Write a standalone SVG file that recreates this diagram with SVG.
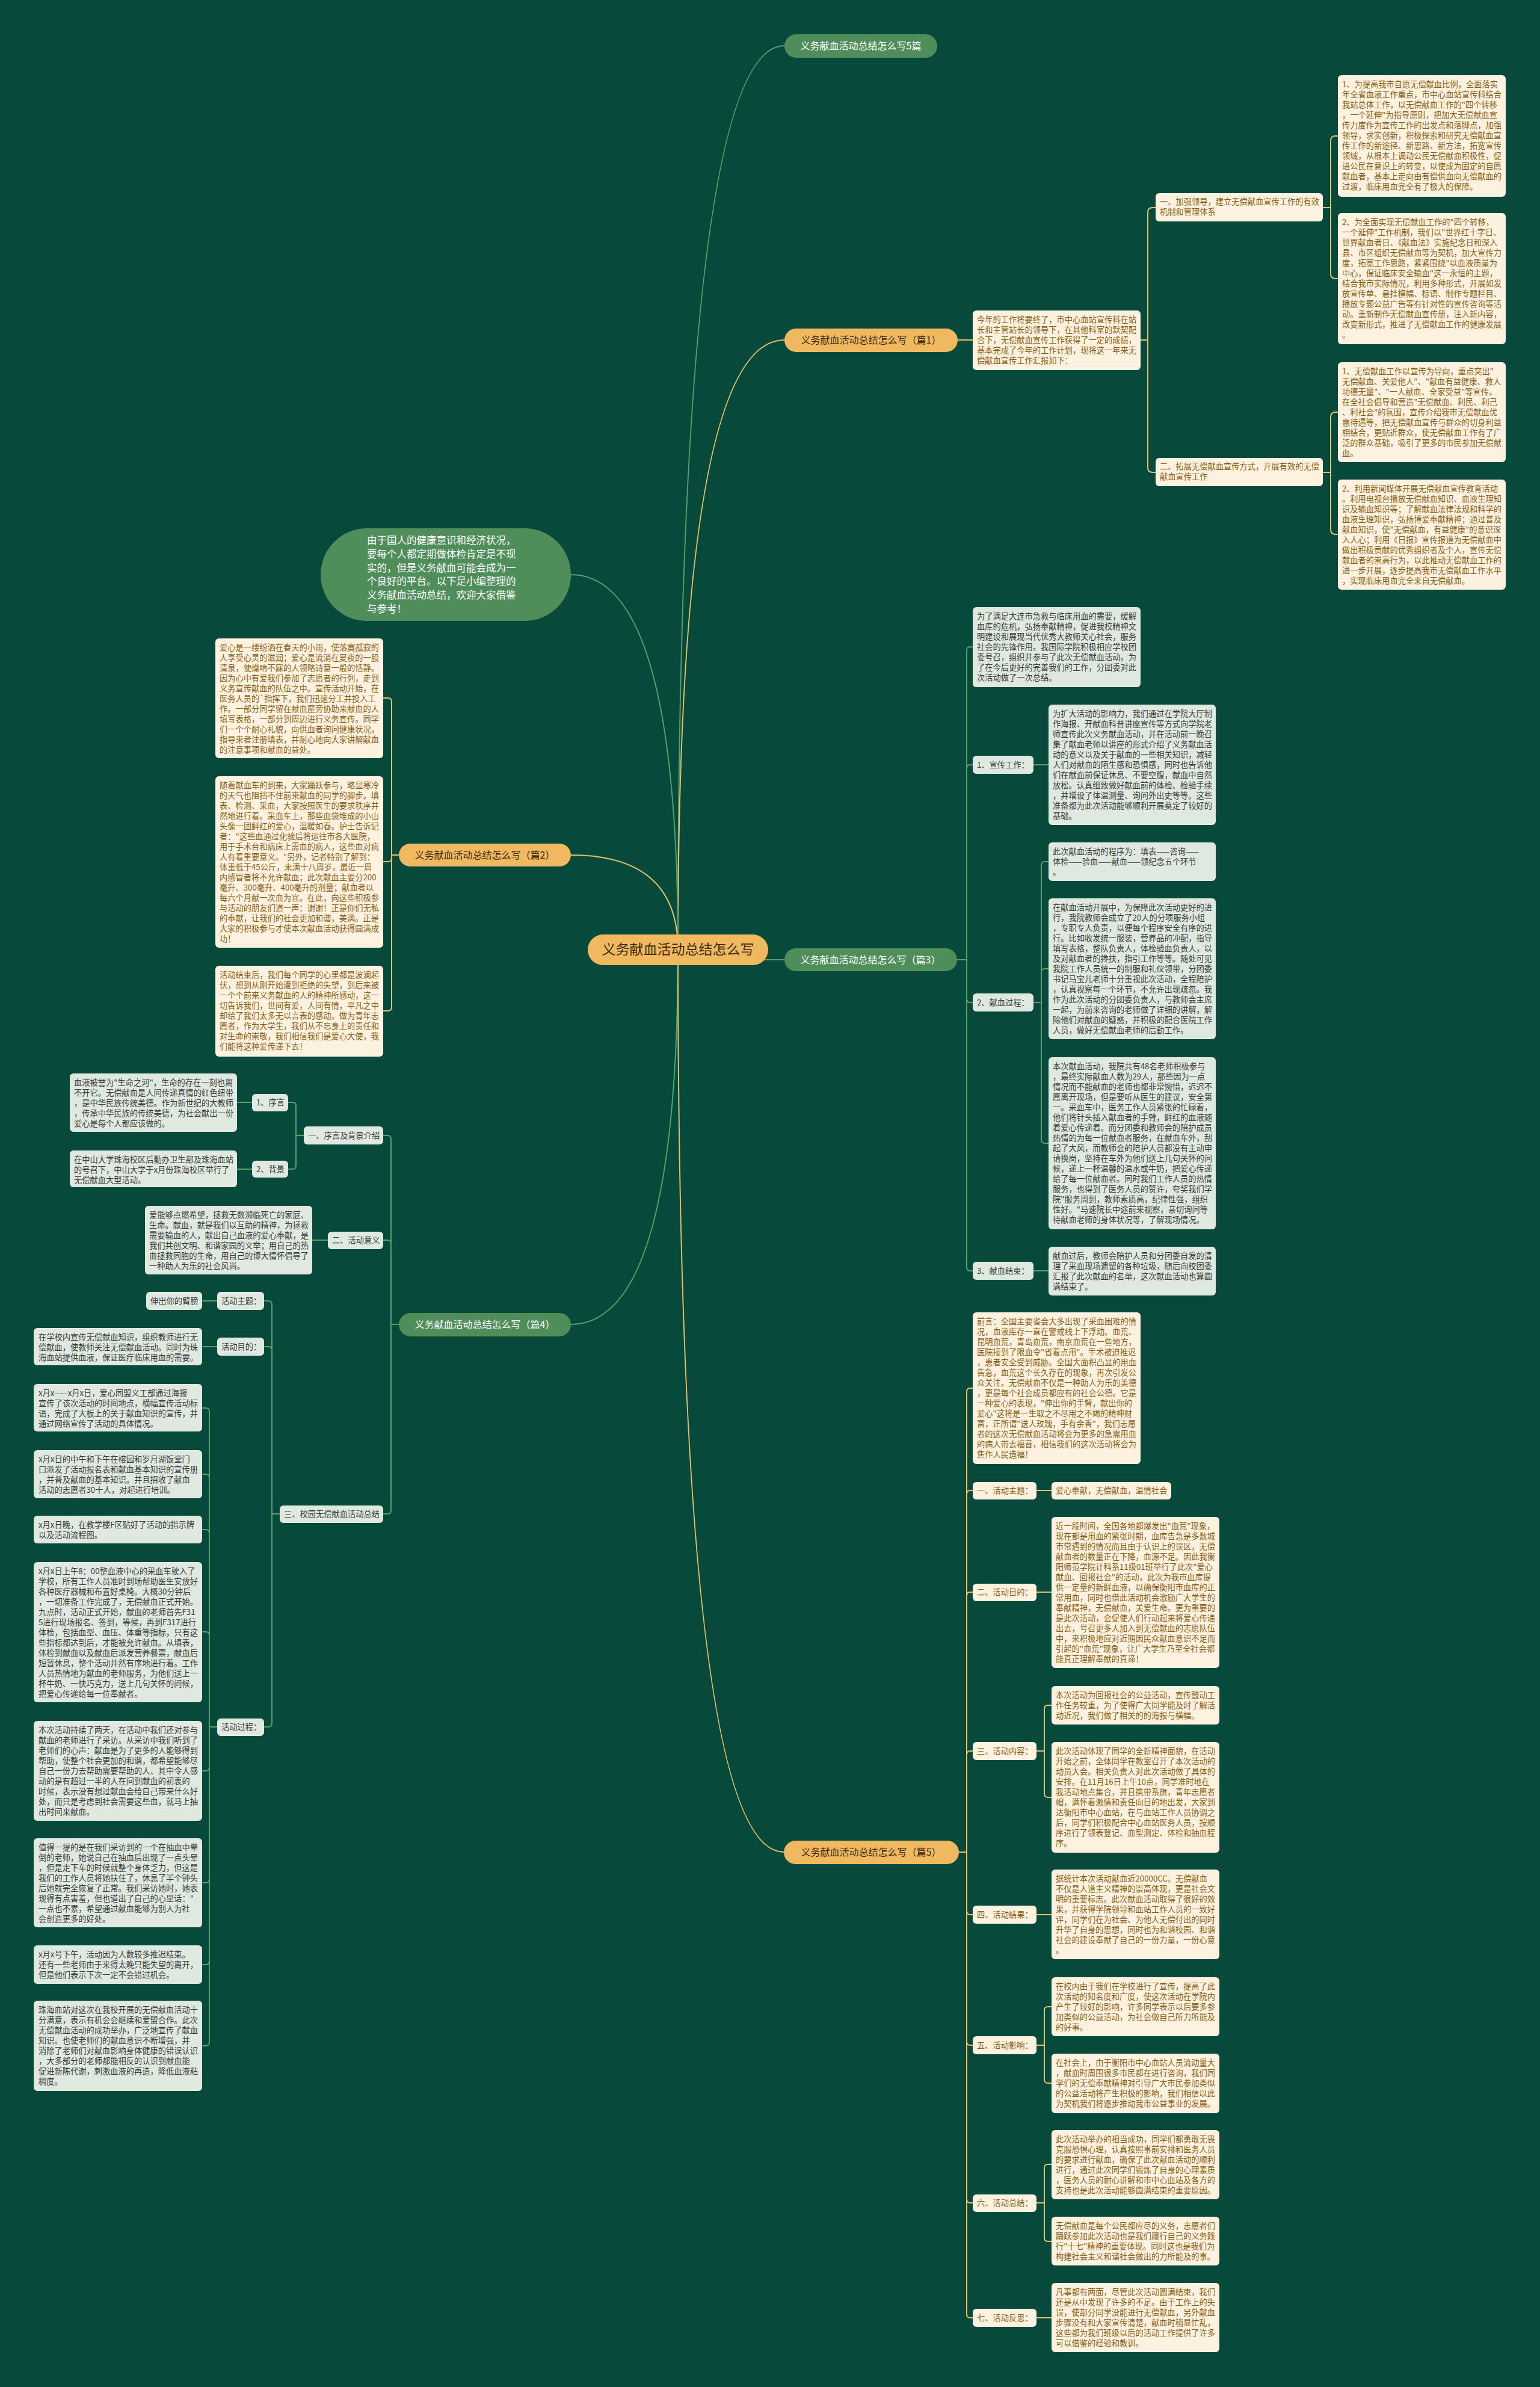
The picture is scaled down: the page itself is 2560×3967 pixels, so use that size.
<svg xmlns="http://www.w3.org/2000/svg" width="2560" height="3967" viewBox="0 0 2560 3967">
<style>
text{font-family:"Noto Sans CJK SC","Noto Sans",sans-serif;}
.cb{fill:#fcf2df;}
.gb{fill:#dfe9df;}
.ct{font-size:13.25px;fill:#8c5e14;}
.gt{font-size:13.25px;fill:#3b3b3b;}
.ly{fill:none;stroke:#e4c06a;stroke-width:2;}
.lg{fill:none;stroke:#5c9f69;stroke-width:2;}
.yn{fill:#f0b960;}
.gn{fill:#4f8e5a;}
.ynt{font-size:16px;fill:#3d2b10;text-anchor:middle;}
.gnt{font-size:16px;fill:#ffffff;text-anchor:middle;}
</style>
<rect width="2560" height="3967" fill="#07493a"/>

<g id="connectors">
<path class="lg" d="M1127 1578 Q1127 76 1304 76"/>
<path class="ly" d="M1127 1578 Q1127 565 1304 565"/>
<path class="lg" d="M1127 1578 Q1127 955 949 955"/>
<path class="ly" d="M1127 1578 Q1127 1421 949 1421"/>
<path class="lg" d="M1127 1595 H1304"/>
<path class="lg" d="M1127 1578 Q1127 2201 949 2201"/>
<path class="ly" d="M1127 1578 Q1127 3078 1303 3078"/>
<path class="ly" d="M1592 565 H1617"/>
<path class="ly" d="M1896 565 H1908 V353 Q1908 345 1916 345 H1921"/>
<path class="ly" d="M1896 565 H1908 V777 Q1908 785 1916 785 H1921"/>
<path class="ly" d="M2199 345 H2212 V234 Q2212 226 2220 226 H2224"/>
<path class="ly" d="M2199 345 H2212 V455 Q2212 463 2220 463 H2224"/>
<path class="ly" d="M2199 785 H2212 V693 Q2212 685 2220 685 H2224"/>
<path class="ly" d="M2199 785 H2212 V880 Q2212 888 2220 888 H2224"/>
<path class="lg" d="M1591 1595 H1607 V1081 Q1607 1075 1613 1075 H1617"/>
<path class="lg" d="M1591 1595 H1607 V1277 Q1607 1271 1613 1271 H1617"/>
<path class="lg" d="M1591 1595 H1607 V1660 Q1607 1666 1613 1666 H1617"/>
<path class="lg" d="M1591 1595 H1607 V2106 Q1607 2112 1613 2112 H1617"/>
<path class="lg" d="M1718 1271 H1743"/>
<path class="lg" d="M1718 1666 H1731 V1438 Q1731 1432 1737 1432 H1743"/>
<path class="lg" d="M1718 1666 H1731 V1616 Q1731 1610 1737 1610 H1743"/>
<path class="lg" d="M1718 1666 H1731 V1894 Q1731 1900 1737 1900 H1743"/>
<path class="lg" d="M1718 2112 H1743"/>
<path class="ly" d="M1594 3078 H1607 V2313 Q1607 2307 1613 2307 H1617"/>
<path class="ly" d="M1594 3078 H1607 V2483 Q1607 2477 1613 2477 H1617"/>
<path class="ly" d="M1594 3078 H1607 V2652 Q1607 2646 1613 2646 H1617"/>
<path class="ly" d="M1594 3078 H1607 V2916 Q1607 2910 1613 2910 H1617"/>
<path class="ly" d="M1594 3078 H1607 V3176 Q1607 3182 1613 3182 H1617"/>
<path class="ly" d="M1594 3078 H1607 V3393 Q1607 3399 1613 3399 H1617"/>
<path class="ly" d="M1594 3078 H1607 V3655 Q1607 3661 1613 3661 H1617"/>
<path class="ly" d="M1594 3078 H1607 V3846 Q1607 3852 1613 3852 H1617"/>
<path class="ly" d="M1723 2477 H1748"/>
<path class="ly" d="M1723 2646 H1748"/>
<path class="ly" d="M1723 2910 H1736 V2840 Q1736 2834 1742 2834 H1748"/>
<path class="ly" d="M1723 2910 H1736 V2981 Q1736 2987 1742 2987 H1748"/>
<path class="ly" d="M1723 3182 H1748"/>
<path class="ly" d="M1723 3399 H1736 V3341 Q1736 3335 1742 3335 H1748"/>
<path class="ly" d="M1723 3399 H1736 V3456 Q1736 3462 1742 3462 H1748"/>
<path class="ly" d="M1723 3661 H1736 V3603 Q1736 3597 1742 3597 H1748"/>
<path class="ly" d="M1723 3661 H1736 V3719 Q1736 3725 1742 3725 H1748"/>
<path class="ly" d="M1723 3852 H1748"/>
<path class="ly" d="M663 1421 H651 V1166 Q651 1160 645 1160 H637"/>
<path class="ly" d="M663 1421 H651 V1426 Q651 1432 645 1432 H637"/>
<path class="ly" d="M663 1421 H651 V1674 Q651 1680 645 1680 H637"/>
<path class="lg" d="M663 2201 H650 V1893 Q650 1887 644 1887 H637"/>
<path class="lg" d="M663 2201 H650 V2067 Q650 2061 644 2061 H637"/>
<path class="lg" d="M663 2201 H650 V2510 Q650 2516 644 2516 H637"/>
<path class="lg" d="M505 1887 H492 V1838 Q492 1832 486 1832 H479"/>
<path class="lg" d="M505 1887 H492 V1937 Q492 1943 486 1943 H479"/>
<path class="lg" d="M419 1832 H394"/>
<path class="lg" d="M419 1943 H394"/>
<path class="lg" d="M545 2061 H519"/>
<path class="lg" d="M465 2516 H452 V2168 Q452 2162 446 2162 H439"/>
<path class="lg" d="M465 2516 H452 V2244 Q452 2238 446 2238 H439"/>
<path class="lg" d="M465 2516 H452 V2864 Q452 2870 446 2870 H439"/>
<path class="lg" d="M361 2162 H336"/>
<path class="lg" d="M361 2238 H336"/>
<path class="lg" d="M361 2870 H348 V2346 Q348 2340 342 2340 H336"/>
<path class="lg" d="M361 2870 H348 V2456 Q348 2450 342 2450 H336"/>
<path class="lg" d="M361 2870 H348 V2548 Q348 2542 342 2542 H336"/>
<path class="lg" d="M361 2870 H348 V2718 Q348 2712 342 2712 H336"/>
<path class="lg" d="M361 2870 H348 V2937 Q348 2943 342 2943 H336"/>
<path class="lg" d="M361 2870 H348 V3123 Q348 3129 342 3129 H336"/>
<path class="lg" d="M361 2870 H348 V3259 Q348 3265 342 3265 H336"/>
<path class="lg" d="M361 2870 H348 V3394 Q348 3400 342 3400 H336"/>
</g>

<g id="root"><rect x="977" y="1553" width="300" height="51" rx="25.5" class="yn"/><text x="1127" y="1586" style="font-size:23px;fill:#3d2b10;text-anchor:middle">义务献血活动总结怎么写</text></g>
<g id="intro"><rect x="533" y="878" width="416" height="154" rx="77" class="gn"/>
<text style="font-size:16.5px;fill:#fff"><tspan x="610" y="904">由于国人的健康意识和经济状况，</tspan><tspan x="610" dy="22.8">要每个人都定期做体检肯定是不现</tspan><tspan x="610" dy="22.8">实的，但是义务献血可能会成为一</tspan><tspan x="610" dy="22.8">个良好的平台。以下是小编整理的</tspan><tspan x="610" dy="22.8">义务献血活动总结，欢迎大家借鉴</tspan><tspan x="610" dy="22.8">与参考！</tspan></text></g>
<g id="n5pian"><rect x="1304" y="57" width="254" height="39" rx="19.5" class="gn"/><text x="1431" y="82" class="gnt">义务献血活动总结怎么写5篇</text></g>
<g id="p1"><rect x="1304" y="546" width="288" height="39" rx="19.5" class="yn"/><text x="1448" y="571" class="ynt">义务献血活动总结怎么写（篇1）</text></g>
<g id="p2"><rect x="663" y="1402" width="286" height="38" rx="19" class="yn"/><text x="806" y="1427" class="ynt">义务献血活动总结怎么写（篇2）</text></g>
<g id="p3"><rect x="1304" y="1576" width="287" height="38" rx="19" class="gn"/><text x="1447" y="1601" class="gnt">义务献血活动总结怎么写（篇3）</text></g>
<g id="p4"><rect x="663" y="2182" width="286" height="39" rx="19.5" class="gn"/><text x="806" y="2207" class="gnt">义务献血活动总结怎么写（篇4）</text></g>
<g id="p5"><rect x="1303" y="3059" width="291" height="39" rx="19.5" class="yn"/><text x="1448" y="3084" class="ynt">义务献血活动总结怎么写（篇5）</text></g>

<g id="p1-intro"><rect x="1617" y="516" width="279" height="99" rx="6" class="cb"/>
<text class="ct"><tspan x="1624" y="536">今年的工作将要终了，市中心血站宣传科在站</tspan><tspan x="1624" dy="17">长和主管站长的领导下，在其他科室的默契配</tspan><tspan x="1624" dy="17">合下，无偿献血宣传工作获得了一定的成绩，</tspan><tspan x="1624" dy="17">基本完成了今年的工作计划，现将这一年来无</tspan><tspan x="1624" dy="17">偿献血宣传工作汇报如下：</tspan></text></g>
<g id="p1-a"><rect x="1921" y="321" width="278" height="47" rx="6" class="cb"/>
<text class="ct"><tspan x="1928" y="340">一、加强领导，建立无偿献血宣传工作的有效</tspan><tspan x="1928" dy="17">机制和管理体系</tspan></text></g>
<g id="p1-a1"><rect x="2224" y="125" width="279" height="202" rx="6" class="cb"/>
<text class="ct"><tspan x="2231" y="145">1、为提高我市自愿无偿献血比例，全面落实</tspan><tspan x="2231" dy="17">年全省血液工作重点，市中心血站宣传科结合</tspan><tspan x="2231" dy="17">我站总体工作，以无偿献血工作的"四个转移</tspan><tspan x="2231" dy="17">，一个延伸"为指导原则，把加大无偿献血宣</tspan><tspan x="2231" dy="17">传力度作为宣传工作的出发点和落脚点，加强</tspan><tspan x="2231" dy="17">领导，求实创新，积极探索和研究无偿献血宣</tspan><tspan x="2231" dy="17">传工作的新途径、新思路、新方法，拓宽宣传</tspan><tspan x="2231" dy="17">领域，从根本上调动公民无偿献血积极性，促</tspan><tspan x="2231" dy="17">进公民在意识上的转变，以使成为固定的自愿</tspan><tspan x="2231" dy="17">献血者，基本上走向由有偿供血向无偿献血的</tspan><tspan x="2231" dy="17">过渡，临床用血完全有了极大的保障。</tspan></text></g>
<g id="p1-a2"><rect x="2224" y="354" width="279" height="218" rx="6" class="cb"/>
<text class="ct"><tspan x="2231" y="374">2、为全面实现无偿献血工作的"四个转移，</tspan><tspan x="2231" dy="17">一个延伸"工作机制，我们以"世界红十字日、</tspan><tspan x="2231" dy="17">世界献血者日、《献血法》实施纪念日和深入</tspan><tspan x="2231" dy="17">县、市区组织无偿献血等为契机，加大宣传力</tspan><tspan x="2231" dy="17">度，拓宽工作思路，紧紧围绕"以血液质量为</tspan><tspan x="2231" dy="17">中心，保证临床安全输血"这一永恒的主题，</tspan><tspan x="2231" dy="17">结合我市实际情况，利用多种形式，开展如发</tspan><tspan x="2231" dy="17">放宣传单、悬挂横幅、标语、制作专题栏目、</tspan><tspan x="2231" dy="17">播放专题公益广告等有针对性的宣传咨询等活</tspan><tspan x="2231" dy="17">动。重新制作无偿献血宣传册，注入新内容，</tspan><tspan x="2231" dy="17">改变新形式，推进了无偿献血工作的健康发展</tspan><tspan x="2231" dy="17">。</tspan></text></g>
<g id="p1-b"><rect x="1921" y="761" width="278" height="47" rx="6" class="cb"/>
<text class="ct"><tspan x="1928" y="780">二、拓展无偿献血宣传方式，开展有效的无偿</tspan><tspan x="1928" dy="17">献血宣传工作</tspan></text></g>
<g id="p1-b1"><rect x="2224" y="602" width="279" height="166" rx="6" class="cb"/>
<text class="ct"><tspan x="2231" y="622">1、无偿献血工作以宣传为导向，重点突出"</tspan><tspan x="2231" dy="17">无偿献血、关爱他人"、"献血有益健康、救人</tspan><tspan x="2231" dy="17">功德无量"、"一人献血、全家受益"等宣传。</tspan><tspan x="2231" dy="17">在全社会倡导和营造"无偿献血、利民、利己</tspan><tspan x="2231" dy="17">、利社会"的氛围，宣传介绍我市无偿献血优</tspan><tspan x="2231" dy="17">惠待遇等，把无偿献血宣传与群众的切身利益</tspan><tspan x="2231" dy="17">相结合，更贴近群众，使无偿献血工作有了广</tspan><tspan x="2231" dy="17">泛的群众基础，吸引了更多的市民参加无偿献</tspan><tspan x="2231" dy="17">血。</tspan></text></g>
<g id="p1-b2"><rect x="2224" y="797" width="279" height="183" rx="6" class="cb"/>
<text class="ct"><tspan x="2231" y="817">2、利用新闻媒体开展无偿献血宣传教育活动</tspan><tspan x="2231" dy="17">。利用电视台播放无偿献血知识、血液生理知</tspan><tspan x="2231" dy="17">识及输血知识等；了解献血法律法规和科学的</tspan><tspan x="2231" dy="17">血液生理知识，弘扬博爱奉献精神；通过普及</tspan><tspan x="2231" dy="17">献血知识，使"无偿献血，有益健康"的意识深</tspan><tspan x="2231" dy="17">入人心；利用《日报》宣传报道为无偿献血中</tspan><tspan x="2231" dy="17">做出积极贡献的优秀组织者及个人，宣传无偿</tspan><tspan x="2231" dy="17">献血者的崇高行为，以此推动无偿献血工作的</tspan><tspan x="2231" dy="17">进一步开展，逐步提高我市无偿献血工作水平</tspan><tspan x="2231" dy="17">，实现临床用血完全来自无偿献血。</tspan></text></g>

<g id="p3-intro"><rect x="1617" y="1009" width="279" height="133" rx="6" class="gb"/>
<text class="gt"><tspan x="1624" y="1029">为了满足大连市急救与临床用血的需要，缓解</tspan><tspan x="1624" dy="17">血库的危机，弘扬奉献精神，促进我校精神文</tspan><tspan x="1624" dy="17">明建设和展现当代优秀大教师关心社会，服务</tspan><tspan x="1624" dy="17">社会的先锋作用。我国际学院积极相应学校团</tspan><tspan x="1624" dy="17">委号召，组织并参与了此次无偿献血活动。为</tspan><tspan x="1624" dy="17">了在今后更好的完善我们的工作，分团委对此</tspan><tspan x="1624" dy="17">次活动做了一次总结。</tspan></text></g>
<g id="p3-l1"><rect x="1617" y="1256" width="101" height="30" rx="6" class="gb"/><text class="gt" x="1624" y="1276">1、宣传工作：</text></g>
<g id="p3-l1a"><rect x="1743" y="1171" width="278" height="200" rx="6" class="gb"/>
<text class="gt"><tspan x="1750" y="1191">为扩大活动的影响力，我们通过在学院大厅制</tspan><tspan x="1750" dy="17">作海报、开献血科普讲座宣传等方式向学院老</tspan><tspan x="1750" dy="17">师宣传此次义务献血活动，并在活动前一晚召</tspan><tspan x="1750" dy="17">集了献血老师以讲座的形式介绍了义务献血活</tspan><tspan x="1750" dy="17">动的意义以及关于献血的一些相关知识，减轻</tspan><tspan x="1750" dy="17">人们对献血的陌生感和恐惧感，同时也告诉他</tspan><tspan x="1750" dy="17">们在献血前保证休息、不要空腹，献血中自然</tspan><tspan x="1750" dy="17">放松。认真细致做好献血前的体检、检验手续</tspan><tspan x="1750" dy="17">，并增设了体温测量、询问外出史等等。这些</tspan><tspan x="1750" dy="17">准备都为此次活动能够顺利开展奠定了较好的</tspan><tspan x="1750" dy="17">基础。</tspan></text></g>
<g id="p3-l2"><rect x="1617" y="1651" width="101" height="30" rx="6" class="gb"/><text class="gt" x="1624" y="1671">2、献血过程：</text></g>
<g id="p3-l2a"><rect x="1743" y="1400" width="278" height="64" rx="6" class="gb"/>
<text class="gt"><tspan x="1750" y="1420">此次献血活动的程序为：填表——咨询——</tspan><tspan x="1750" dy="17">体检——验血——献血——领纪念五个环节</tspan><tspan x="1750" dy="17">。</tspan></text></g>
<g id="p3-l2b"><rect x="1743" y="1493" width="278" height="234" rx="6" class="gb"/>
<text class="gt"><tspan x="1750" y="1513">在献血活动开展中，为保障此次活动更好的进</tspan><tspan x="1750" dy="17">行，我院教师会成立了20人的分项服务小组</tspan><tspan x="1750" dy="17">，专职专人负责，以便每个程序安全有序的进</tspan><tspan x="1750" dy="17">行。比如收发统一服装，营养品的冲配，指导</tspan><tspan x="1750" dy="17">填写表格，整队负责人，体检验血负责人，以</tspan><tspan x="1750" dy="17">及对献血者的搀扶，指引工作等等。随处可见</tspan><tspan x="1750" dy="17">我院工作人员统一的制服和礼仪领带，分团委</tspan><tspan x="1750" dy="17">书记马宝儿老师十分重视此次活动，全程陪护</tspan><tspan x="1750" dy="17">，认真视察每一个环节，不允许出现疏忽。我</tspan><tspan x="1750" dy="17">作为此次活动的分团委负责人，与教师会主席</tspan><tspan x="1750" dy="17">一起，为前来咨询的老师做了详细的讲解，解</tspan><tspan x="1750" dy="17">除他们对献血的疑惑，并积极的配合医院工作</tspan><tspan x="1750" dy="17">人员，做好无偿献血老师的后勤工作。</tspan></text></g>
<g id="p3-l2c"><rect x="1743" y="1757" width="278" height="286" rx="6" class="gb"/>
<text class="gt"><tspan x="1750" y="1777">本次献血活动，我院共有48名老师积极参与</tspan><tspan x="1750" dy="17">，最终实际献血人数为29人，那些因为一点</tspan><tspan x="1750" dy="17">情况而不能献血的老师也都非常惋惜，迟迟不</tspan><tspan x="1750" dy="17">愿离开现场，但是要听从医生的建议，安全第</tspan><tspan x="1750" dy="17">一。采血车中，医务工作人员紧张的忙碌着，</tspan><tspan x="1750" dy="17">他们将针头插入献血者的手臂，鲜红的血液随</tspan><tspan x="1750" dy="17">着爱心传递着。而分团委和教师会的陪护成员</tspan><tspan x="1750" dy="17">热情的为每一位献血者服务，在献血车外，刮</tspan><tspan x="1750" dy="17">起了大风，而教师会的陪护人员都没有主动申</tspan><tspan x="1750" dy="17">请换岗，坚持在车外为他们送上几句关怀的问</tspan><tspan x="1750" dy="17">候，递上一杯温馨的温水或牛奶，把爱心传递</tspan><tspan x="1750" dy="17">给了每一位献血者。同时我们工作人员的热情</tspan><tspan x="1750" dy="17">服务，也得到了医务人员的赞许，夸奖我们学</tspan><tspan x="1750" dy="17">院"服务周到，教师素质高，纪律性强，组织</tspan><tspan x="1750" dy="17">性好。"马速院长中途前来视察，亲切询问等</tspan><tspan x="1750" dy="17">待献血老师的身体状况等，了解现场情况。</tspan></text></g>
<g id="p3-l3"><rect x="1617" y="2097" width="101" height="30" rx="6" class="gb"/><text class="gt" x="1624" y="2117">3、献血结束：</text></g>
<g id="p3-l3a"><rect x="1743" y="2072" width="278" height="81" rx="6" class="gb"/>
<text class="gt"><tspan x="1750" y="2092">献血过后，教师会陪护人员和分团委自发的清</tspan><tspan x="1750" dy="17">理了采血现场遗留的各种垃圾，随后向校团委</tspan><tspan x="1750" dy="17">汇报了此次献血的名单，这次献血活动也算圆</tspan><tspan x="1750" dy="17">满结束了。</tspan></text></g>

<g id="p5-intro"><rect x="1617" y="2181" width="279" height="252" rx="6" class="cb"/>
<text class="ct"><tspan x="1624" y="2201">前言：全国主要省会大多出现了采血困难的情</tspan><tspan x="1624" dy="17">况，血液库存一直在警戒线上下浮动。血荒、</tspan><tspan x="1624" dy="17">昆明血荒，青岛血荒，南京血荒在一些地方，</tspan><tspan x="1624" dy="17">医院接到了限血令"省着点用"。手术被迫推迟</tspan><tspan x="1624" dy="17">，患者安全受到威胁。全国大面积凸显的用血</tspan><tspan x="1624" dy="17">告急，血荒这个长久存在的现象，再次引发公</tspan><tspan x="1624" dy="17">众关注。无偿献血不仅是一种助人为乐的美德</tspan><tspan x="1624" dy="17">，更是每个社会成员都应有的社会公德。它是</tspan><tspan x="1624" dy="17">一种爱心的表现，"伸出你的手臂，献出你的</tspan><tspan x="1624" dy="17">爱心"这将是一生取之不尽用之不竭的精神财</tspan><tspan x="1624" dy="17">富，正所谓"送人玫瑰，手有余香"，我们志愿</tspan><tspan x="1624" dy="17">者的这次无偿献血活动将会为更多的急需用血</tspan><tspan x="1624" dy="17">的病人带去福音，相信我们的这次活动将会为</tspan><tspan x="1624" dy="17">焦作人民造福！</tspan></text></g>
<g id="p5-l1"><rect x="1617" y="2463" width="106" height="29" rx="6" class="cb"/><text class="ct" x="1624" y="2482">一、活动主题：</text></g>
<g id="p5-l1a"><rect x="1748" y="2463" width="199" height="29" rx="6" class="cb"/><text class="ct" x="1755" y="2482">爱心奉献，无偿献血，温情社会</text></g>
<g id="p5-l2"><rect x="1617" y="2632" width="106" height="29" rx="6" class="cb"/><text class="ct" x="1624" y="2651">二、活动目的：</text></g>
<g id="p5-l2a"><rect x="1748" y="2521" width="279" height="251" rx="6" class="cb"/>
<text class="ct"><tspan x="1755" y="2541">近一段时间，全国各地都爆发出"血荒"现象，</tspan><tspan x="1755" dy="17">现在都是用血的紧张时期，血库告急是多数城</tspan><tspan x="1755" dy="17">市常遇到的情况而且由于认识上的误区，无偿</tspan><tspan x="1755" dy="17">献血者的数量正在下降，血源不足。因此我衡</tspan><tspan x="1755" dy="17">阳师范学院计科系11级01班举行了此次"爱心</tspan><tspan x="1755" dy="17">献血、回报社会"的活动，此次为我市血库提</tspan><tspan x="1755" dy="17">供一定量的新鲜血液，以确保衡阳市血库的正</tspan><tspan x="1755" dy="17">常用血，同时也借此活动机会激励广大学生的</tspan><tspan x="1755" dy="17">奉献精神，无偿献血，关爱生命。更为重要的</tspan><tspan x="1755" dy="17">是此次活动，会促使人们行动起来将爱心传递</tspan><tspan x="1755" dy="17">出去，号召更多人加入到无偿献血的志愿队伍</tspan><tspan x="1755" dy="17">中，来积极地应对近期因民众献血意识不足而</tspan><tspan x="1755" dy="17">引起的"血荒"现象，让广大学生乃至全社会都</tspan><tspan x="1755" dy="17">能真正理解奉献的真谛！</tspan></text></g>
<g id="p5-l3"><rect x="1617" y="2895" width="106" height="30" rx="6" class="cb"/><text class="ct" x="1624" y="2915">三、活动内容：</text></g>
<g id="p5-l3a"><rect x="1748" y="2802" width="279" height="64" rx="6" class="cb"/>
<text class="ct"><tspan x="1755" y="2822">本次活动为回报社会的公益活动，宣传鼓动工</tspan><tspan x="1755" dy="17">作任务较重，为了使得广大同学能及时了解活</tspan><tspan x="1755" dy="17">动近况，我们做了相关的的海报与横幅。</tspan></text></g>
<g id="p5-l3b"><rect x="1748" y="2895" width="279" height="184" rx="6" class="cb"/>
<text class="ct"><tspan x="1755" y="2915">此次活动体现了同学的全新精神面貌，在活动</tspan><tspan x="1755" dy="17">开始之前，全体同学在教室召开了本次活动的</tspan><tspan x="1755" dy="17">动员大会。相关负责人对此次活动做了具体的</tspan><tspan x="1755" dy="17">安排。在11月16日上午10点，同学准时地在</tspan><tspan x="1755" dy="17">我活动地点集合，并且携带系旗，青年志愿者</tspan><tspan x="1755" dy="17">帽，满怀着激情和责任向目的地出发，大家到</tspan><tspan x="1755" dy="17">达衡阳市中心血站，在与血站工作人员协调之</tspan><tspan x="1755" dy="17">后，同学们积极配合中心血站医务人员，按顺</tspan><tspan x="1755" dy="17">序进行了领表登记、血型测定、体检和抽血程</tspan><tspan x="1755" dy="17">序。</tspan></text></g>
<g id="p5-l4"><rect x="1617" y="3167" width="106" height="30" rx="6" class="cb"/><text class="ct" x="1624" y="3187">四、活动结果：</text></g>
<g id="p5-l4a"><rect x="1748" y="3107" width="279" height="149" rx="6" class="cb"/>
<text class="ct"><tspan x="1755" y="3127">据统计本次活动献血近20000CC。无偿献血</tspan><tspan x="1755" dy="17">不仅是人道主义精神的崇高体现，更是社会文</tspan><tspan x="1755" dy="17">明的重要标志。此次献血活动取得了很好的效</tspan><tspan x="1755" dy="17">果，并获得学院领导和血站工作人员的一致好</tspan><tspan x="1755" dy="17">评，同学们在为社会、为他人无偿付出的同时</tspan><tspan x="1755" dy="17">升华了自身的思想，同时也为和谐校园、和谐</tspan><tspan x="1755" dy="17">社会的建设奉献了自己的一份力量，一份心意</tspan><tspan x="1755" dy="17">。</tspan></text></g>
<g id="p5-l5"><rect x="1617" y="3384" width="106" height="30" rx="6" class="cb"/><text class="ct" x="1624" y="3404">五、活动影响：</text></g>
<g id="p5-l5a"><rect x="1748" y="3286" width="279" height="98" rx="6" class="cb"/>
<text class="ct"><tspan x="1755" y="3306">在校内由于我们在学校进行了宣传，提高了此</tspan><tspan x="1755" dy="17">次活动的知名度和广度，使这次活动在学院内</tspan><tspan x="1755" dy="17">产生了较好的影响，许多同学表示以后要多参</tspan><tspan x="1755" dy="17">加类似的公益活动，为社会做自己所力所能及</tspan><tspan x="1755" dy="17">的好事。</tspan></text></g>
<g id="p5-l5b"><rect x="1748" y="3413" width="279" height="99" rx="6" class="cb"/>
<text class="ct"><tspan x="1755" y="3433">在社会上，由于衡阳市中心血站人员流动量大</tspan><tspan x="1755" dy="17">，献血时周围很多市民都在进行咨询，我们同</tspan><tspan x="1755" dy="17">学们的无偿奉献精神对引导广大市民参加类似</tspan><tspan x="1755" dy="17">的公益活动将产生积极的影响，我们相信以此</tspan><tspan x="1755" dy="17">为契机我们将逐步推动我市公益事业的发展。</tspan></text></g>
<g id="p5-l6"><rect x="1617" y="3647" width="106" height="29" rx="6" class="cb"/><text class="ct" x="1624" y="3666">六、活动总结：</text></g>
<g id="p5-l6a"><rect x="1748" y="3540" width="279" height="115" rx="6" class="cb"/>
<text class="ct"><tspan x="1755" y="3560">此次活动举办的相当成功，同学们都勇敢无畏</tspan><tspan x="1755" dy="17">克服恐惧心理，认真按照事前安排和医务人员</tspan><tspan x="1755" dy="17">的要求进行献血，确保了此次献血活动的顺利</tspan><tspan x="1755" dy="17">进行，通过此次同学们锻炼了自身的心理素质</tspan><tspan x="1755" dy="17">，医务人员的耐心讲解和市中心血站及各方的</tspan><tspan x="1755" dy="17">支持也是此次活动能够圆满结束的重要原因。</tspan></text></g>
<g id="p5-l6b"><rect x="1748" y="3684" width="279" height="81" rx="6" class="cb"/>
<text class="ct"><tspan x="1755" y="3704">无偿献血是每个公民都应尽的义务，志愿者们</tspan><tspan x="1755" dy="17">踊跃参加此次活动也是我们履行自己的义务践</tspan><tspan x="1755" dy="17">行"十七"精神的重要体现。同时这也是我们为</tspan><tspan x="1755" dy="17">构建社会主义和谐社会做出的力所能及的事。</tspan></text></g>
<g id="p5-l7"><rect x="1617" y="3837" width="106" height="30" rx="6" class="cb"/><text class="ct" x="1624" y="3857">七、活动反思：</text></g>
<g id="p5-l7a"><rect x="1748" y="3794" width="279" height="115" rx="6" class="cb"/>
<text class="ct"><tspan x="1755" y="3814">凡事都有两面，尽管此次活动圆满结束，我们</tspan><tspan x="1755" dy="17">还是从中发现了许多的不足。由于工作上的失</tspan><tspan x="1755" dy="17">误，使部分同学没能进行无偿献血，另外献血</tspan><tspan x="1755" dy="17">步骤没有和大家宣传清楚，献血时稍显忙乱，</tspan><tspan x="1755" dy="17">这些都为我们班级以后的活动工作提供了许多</tspan><tspan x="1755" dy="17">可以借鉴的经验和教训。</tspan></text></g>

<g id="p2-a"><rect x="358" y="1061" width="279" height="199" rx="6" class="cb"/>
<text class="ct"><tspan x="365" y="1081">爱心是一缕纷洒在春天的小雨，使落寞孤寂的</tspan><tspan x="365" dy="17">人享受心灵的滋润；爱心是流淌在夏夜的一股</tspan><tspan x="365" dy="17">清泉，使燥啃不寐的人领略诗意一般的恬静。</tspan><tspan x="365" dy="17">因为心中有爱我们参加了志愿者的行列，走到</tspan><tspan x="365" dy="17">义务宣传献血的队伍之中。宣传活动开始，在</tspan><tspan x="365" dy="17">医务人员的`指挥下，我们迅速分工并投入工</tspan><tspan x="365" dy="17">作。一部分同学留在献血屋旁协助来献血的人</tspan><tspan x="365" dy="17">填写表格，一部分到周边进行义务宣传。同学</tspan><tspan x="365" dy="17">们一个个耐心礼貌，向供血者询问健康状况，</tspan><tspan x="365" dy="17">指导来者注册填表，并耐心地向大家讲解献血</tspan><tspan x="365" dy="17">的注意事项和献血的益处。</tspan></text></g>
<g id="p2-b"><rect x="358" y="1290" width="279" height="285" rx="6" class="cb"/>
<text class="ct"><tspan x="365" y="1310">随着献血车的到来，大家踊跃参与，略显寒冷</tspan><tspan x="365" dy="17">的天气也阻挡不住前来献血的同学的脚步。填</tspan><tspan x="365" dy="17">表、检测、采血，大家按照医生的要求秩序井</tspan><tspan x="365" dy="17">然地进行着。采血车上，那些血袋堆成的小山</tspan><tspan x="365" dy="17">头像一团鲜红的爱心，温暖如春。护士告诉记</tspan><tspan x="365" dy="17">者："这些血通过化验后将运往市各大医院，</tspan><tspan x="365" dy="17">用于手术台和病床上需血的病人，这些血对病</tspan><tspan x="365" dy="17">人有着重要意义。"另外，记者特别了解到：</tspan><tspan x="365" dy="17">体重低于45公斤，未满十八周岁，最近一周</tspan><tspan x="365" dy="17">内感冒者将不允许献血；此次献血主要分200</tspan><tspan x="365" dy="17">毫升、300毫升、400毫升的剂量；献血者以</tspan><tspan x="365" dy="17">每六个月献一次血为宜。在此，向这些积极参</tspan><tspan x="365" dy="17">与活动的朋友们道一声：谢谢！正是你们无私</tspan><tspan x="365" dy="17">的奉献，让我们的社会更加和谐，美满。正是</tspan><tspan x="365" dy="17">大家的积极参与才使本次献血活动获得圆满成</tspan><tspan x="365" dy="17">功！</tspan></text></g>
<g id="p2-c"><rect x="358" y="1605" width="279" height="151" rx="6" class="cb"/>
<text class="ct"><tspan x="365" y="1625">活动结束后，我们每个同学的心里都是波澜起</tspan><tspan x="365" dy="17">伏，想到从刚开始遭到拒绝的失望，到后来被</tspan><tspan x="365" dy="17">一个个前来义务献血的人的精神所感动，这一</tspan><tspan x="365" dy="17">切告诉我们，世间有爱，人间有情，平凡之中</tspan><tspan x="365" dy="17">却给了我们太多无以言表的感动。做为青年志</tspan><tspan x="365" dy="17">愿者，作为大学生，我们从不忘身上的责任和</tspan><tspan x="365" dy="17">对生命的崇敬，我们相信我们是爱心大使，我</tspan><tspan x="365" dy="17">们能将这种爱传递下去！</tspan></text></g>

<g id="p4-l1"><rect x="505" y="1872" width="132" height="30" rx="6" class="gb"/><text class="gt" x="512" y="1892">一、序言及背景介绍</text></g>
<g id="p4-l1-1"><rect x="419" y="1818" width="60" height="29" rx="6" class="gb"/><text class="gt" x="426" y="1837">1、序言</text></g>
<g id="p4-l1-1a"><rect x="116" y="1784" width="278" height="97" rx="6" class="gb"/>
<text class="gt"><tspan x="123" y="1804">血液被誉为"生命之河"，生命的存在一刻也离</tspan><tspan x="123" dy="17">不开它。无偿献血是人间传递真情的红色纽带</tspan><tspan x="123" dy="17">，是中华民族传统美德。作为新世纪的大教师</tspan><tspan x="123" dy="17">，传承中华民族的传统美德，为社会献出一份</tspan><tspan x="123" dy="17">爱心是每个人都应该做的。</tspan></text></g>
<g id="p4-l1-2"><rect x="419" y="1929" width="60" height="28" rx="6" class="gb"/><text class="gt" x="426" y="1948">2、背景</text></g>
<g id="p4-l1-2a"><rect x="116" y="1912" width="278" height="61" rx="6" class="gb"/>
<text class="gt"><tspan x="123" y="1932">在中山大学珠海校区后勤办卫生部及珠海血站</tspan><tspan x="123" dy="17">的号召下，中山大学于x月份珠海校区举行了</tspan><tspan x="123" dy="17">无偿献血大型活动。</tspan></text></g>
<g id="p4-l2"><rect x="545" y="2047" width="92" height="29" rx="6" class="gb"/><text class="gt" x="552" y="2066">二、活动意义</text></g>
<g id="p4-l2a"><rect x="241" y="2004" width="278" height="114" rx="6" class="gb"/>
<text class="gt"><tspan x="248" y="2024">爱能够点燃希望，拯救无数濒临死亡的家庭、</tspan><tspan x="248" dy="17">生命。献血，就是我们以互助的精神，为拯救</tspan><tspan x="248" dy="17">需要输血的人，献出自己血液的爱心奉献，是</tspan><tspan x="248" dy="17">我们共创文明、和谐家园的义举；用自己的热</tspan><tspan x="248" dy="17">血拯救同胞的生命，用自己的博大情怀倡导了</tspan><tspan x="248" dy="17">一种助人为乐的社会风尚。</tspan></text></g>
<g id="p4-l3"><rect x="465" y="2502" width="172" height="29" rx="6" class="gb"/><text class="gt" x="472" y="2521">三、校园无偿献血活动总结</text></g>
<g id="p4-l3-1"><rect x="361" y="2147" width="78" height="30" rx="6" class="gb"/><text class="gt" x="368" y="2167">活动主题：</text></g>
<g id="p4-l3-1a"><rect x="243" y="2147" width="93" height="30" rx="6" class="gb"/><text class="gt" x="250" y="2167">伸出你的臂膀</text></g>
<g id="p4-l3-2"><rect x="361" y="2223" width="78" height="30" rx="6" class="gb"/><text class="gt" x="368" y="2243">活动目的：</text></g>
<g id="p4-l3-2a"><rect x="56" y="2207" width="280" height="62" rx="6" class="gb"/>
<text class="gt"><tspan x="64" y="2227">在学校内宣传无偿献血知识，组织教师进行无</tspan><tspan x="64" dy="17">偿献血，使教师关注无偿献血活动。同时为珠</tspan><tspan x="64" dy="17">海血站提供血液，保证医疗临床用血的需要。</tspan></text></g>
<g id="p4-l3-3"><rect x="361" y="2856" width="78" height="29" rx="6" class="gb"/><text class="gt" x="368" y="2875">活动过程：</text></g>
<g id="p4-s1"><rect x="56" y="2300" width="280" height="79" rx="6" class="gb"/>
<text class="gt"><tspan x="64" y="2320">x月x——x月x日，爱心同盟义工部通过海报</tspan><tspan x="64" dy="17">宣传了该次活动的时间地点，横幅宣传活动标</tspan><tspan x="64" dy="17">语，完成了大板上的关于献血知识的宣传，并</tspan><tspan x="64" dy="17">通过网络宣传了活动的具体情况。</tspan></text></g>
<g id="p4-s2"><rect x="56" y="2410" width="280" height="80" rx="6" class="gb"/>
<text class="gt"><tspan x="64" y="2430">x月x日的中午和下午在榕园和岁月湖饭堂门</tspan><tspan x="64" dy="17">口派发了活动报名表和献血基本知识的宣传册</tspan><tspan x="64" dy="17">，并普及献血的基本知识。并且招收了献血</tspan><tspan x="64" dy="17">活动的志愿者30十人，对起进行培训。</tspan></text></g>
<g id="p4-s3"><rect x="56" y="2519" width="280" height="46" rx="6" class="gb"/>
<text class="gt"><tspan x="64" y="2539">x月x日晚，在教学楼F区贴好了活动的指示牌</tspan><tspan x="64" dy="17">以及活动流程图。</tspan></text></g>
<g id="p4-s4"><rect x="56" y="2596" width="280" height="233" rx="6" class="gb"/>
<text class="gt"><tspan x="64" y="2616">x月x日上午8：00整血液中心的采血车驶入了</tspan><tspan x="64" dy="17">学校，所有工作人员准时到场帮助医生安放好</tspan><tspan x="64" dy="17">各种医疗器械和布置好桌椅。大概30分钟后</tspan><tspan x="64" dy="17">，一切准备工作完成了，无偿献血正式开始。</tspan><tspan x="64" dy="17">九点时，活动正式开始，献血的老师首先F31</tspan><tspan x="64" dy="17">5进行现场报名、签到，等候，再到F317进行</tspan><tspan x="64" dy="17">体检，包括血型、血压、体重等指标，只有这</tspan><tspan x="64" dy="17">些指标都达到后，才能被允许献血。从填表，</tspan><tspan x="64" dy="17">体检到献血以及献血后派发营养餐票，献血后</tspan><tspan x="64" dy="17">短暂休息，整个活动井然有序地进行着。工作</tspan><tspan x="64" dy="17">人员热情地为献血的老师服务，为他们送上一</tspan><tspan x="64" dy="17">杯牛奶、一快巧克力，送上几句关怀的问候，</tspan><tspan x="64" dy="17">把爱心传递给每一位奉献者。</tspan></text></g>
<g id="p4-s5"><rect x="56" y="2860" width="280" height="166" rx="6" class="gb"/>
<text class="gt"><tspan x="64" y="2880">本次活动持续了两天，在活动中我们还对参与</tspan><tspan x="64" dy="17">献血的老师进行了采访。从采访中我们听到了</tspan><tspan x="64" dy="17">老师们的心声：献血是为了更多的人能够得到</tspan><tspan x="64" dy="17">帮助，使整个社会更加的和谐，都希望能够尽</tspan><tspan x="64" dy="17">自己一份力去帮助需要帮助的人、其中令人感</tspan><tspan x="64" dy="17">动的是有超过一半的人在问到献血的初衷的</tspan><tspan x="64" dy="17">时候，表示没有想过献血会给自己带来什么好</tspan><tspan x="64" dy="17">处，而只是考虑到社会需要这些血，就马上抽</tspan><tspan x="64" dy="17">出时间来献血。</tspan></text></g>
<g id="p4-s6"><rect x="56" y="3055" width="280" height="148" rx="6" class="gb"/>
<text class="gt"><tspan x="64" y="3075">值得一提的是在我们采访到的一个在抽血中晕</tspan><tspan x="64" dy="17">倒的老师，她说自己在抽血后出现了一点头晕</tspan><tspan x="64" dy="17">，但是走下车的时候就整个身体乏力，但这是</tspan><tspan x="64" dy="17">我们的工作人员将她扶住了，休息了半个钟头</tspan><tspan x="64" dy="17">后她就完全恢复了正常。我们采访她时，她表</tspan><tspan x="64" dy="17">现得有点害羞，但也道出了自己的心里话："</tspan><tspan x="64" dy="17">一点也不累，希望通过献血能够为别人为社</tspan><tspan x="64" dy="17">会创造更多的好处。</tspan></text></g>
<g id="p4-s7"><rect x="56" y="3233" width="280" height="64" rx="6" class="gb"/>
<text class="gt"><tspan x="64" y="3253">x月x号下午，活动因为人数较多推迟结束。</tspan><tspan x="64" dy="17">还有一些老师由于来得太晚只能失望的离开，</tspan><tspan x="64" dy="17">但是他们表示下次一定不会错过机会。</tspan></text></g>
<g id="p4-s8"><rect x="56" y="3325" width="280" height="150" rx="6" class="gb"/>
<text class="gt"><tspan x="64" y="3345">珠海血站对这次在我校开展的无偿献血活动十</tspan><tspan x="64" dy="17">分满意，表示有机会会继续和爱盟合作。此次</tspan><tspan x="64" dy="17">无偿献血活动的成功举办，广泛地宣传了献血</tspan><tspan x="64" dy="17">知识。也使老师们的献血意识不断增强，并</tspan><tspan x="64" dy="17">消除了老师们对献血影响身体健康的错误认识</tspan><tspan x="64" dy="17">，大多部分的老师都能相反的认识到献血能</tspan><tspan x="64" dy="17">促进新陈代谢，刺激血液的再造，降低血液粘</tspan><tspan x="64" dy="17">稠度。</tspan></text></g>
</svg>
